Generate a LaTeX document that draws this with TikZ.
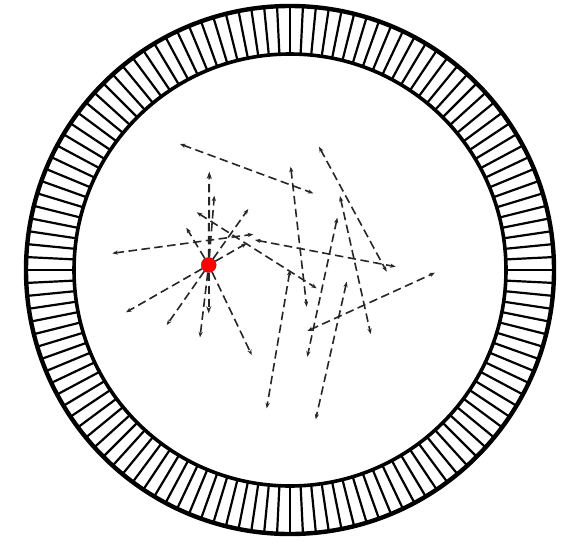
\documentclass[tikz,border=0pt]{standalone}
\usetikzlibrary{arrows.meta,calc}
\begin{document}
\begin{tikzpicture}[x=1pt,y=-1pt,
  tip/.tip={Stealth[length=5.5pt,width=4.2pt]},
  bigtip/.tip={Stealth[length=7pt,width=5pt]},
  walk/.style={draw=black!85, line width=1.6pt, dash pattern=on 8.5pt off 4.5pt, tip-tip},
  ray/.style={draw=black!85, line width=1.6pt, dash pattern=on 8.5pt off 4.5pt, -tip},
  bigray/.style={draw=black!85, line width=2pt, dash pattern=on 8.5pt off 4.5pt, -bigtip},
  source/.style={circle, fill=red, draw=red!75!black, line width=0.4pt, minimum size=15pt, inner sep=0pt},
  spoke/.style={line width=2.2pt, draw=black},
  rim/.style={line width=3.6pt, draw=black}]
\useasboundingbox (0,0) rectangle (564,541);
\coordinate (c) at (290,270);
% ring
\foreach \k in {0,...,127}{
  \draw[spoke] ($(c)+(\k*2.8125:216)$) -- ($(c)+(\k*2.8125:264)$);
}
\draw[rim, line width=4.4pt] (c) circle[radius=264];
\draw[rim] (c) circle[radius=216];
% end points
\coordinate (a) at (209.3,171.7);
\coordinate (b) at (214.3,195.7);
\coordinate (cc) at (186.3,227.7);
\coordinate (d) at (248.3,209);
\coordinate (e) at (246.7,243.3);
\coordinate (f) at (126,312.3);
\coordinate (g) at (166.7,325);
\coordinate (h) at (200,337.3);
\coordinate (i) at (208.7,313.3);
\coordinate (j) at (251.7,355);
\coordinate (k1) at (112.3,253.3); \coordinate (k2) at (253.3,234.3);
\coordinate (l1) at (196.7,212.3); \coordinate (l2) at (316.7,288.3);
\coordinate (m1) at (255,240);     \coordinate (m2) at (395.7,266.7);
\coordinate (o1) at (180,144);     \coordinate (o2) at (313.3,193.3);
\coordinate (p1) at (290.7,166.7); \coordinate (p2) at (306.7,306.7);
\coordinate (q1) at (319,146.7);   \coordinate (q2) at (386.7,271.7);
\coordinate (r1) at (340,196);     \coordinate (r2) at (370.7,334);
\coordinate (s1) at (337.3,217.7); \coordinate (s2) at (307.3,356.7);
\coordinate (t1) at (290,270);     \coordinate (t2) at (266.7,408.3);
\coordinate (u1) at (346.7,281.7); \coordinate (u2) at (315.7,419.3);
\coordinate (v1) at (307.3,331);   \coordinate (v2) at (435,272.7);
% walks
\foreach \n in {k,l,m,o,p,q,r,s,t,u,v}{
  \draw[walk] (\n1) -- (\n2);
}
% source
\node[source] (src) at (208.7,265) {};
\foreach \n in {b,cc,d,e,f,g,h,j}{
  \draw[ray] (src) -- (\n);
}
\draw[bigray] (src) -- (a);
\draw[bigray] (src) -- (i);
\end{tikzpicture}
\end{document}
